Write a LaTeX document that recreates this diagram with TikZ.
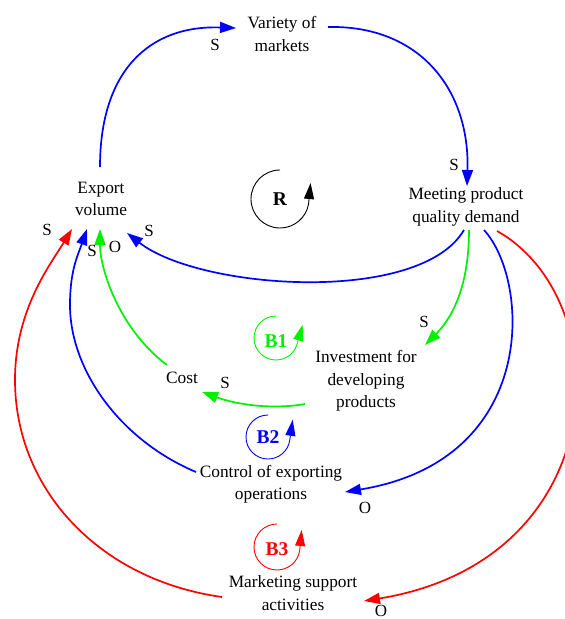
\documentclass[tikz,border=0pt]{standalone}
\usepackage{fontspec}
\setmainfont{Liberation Serif}
\usetikzlibrary{arrows.meta,calc}
\definecolor{lblue}{RGB}{0,0,255}
\definecolor{lgreen}{RGB}{0,240,0}
\definecolor{lred}{RGB}{255,0,0}
\begin{document}
\begin{tikzpicture}[x=1pt,y=-1pt,
  var/.style={align=center,inner sep=0pt,font=\fontsize{17.3}{22.5}\selectfont},
  pol/.style={inner sep=0pt,font=\fontsize{17}{20}\selectfont},
  lnk/.style={line width=1.7pt,-{Triangle[length=16pt,width=11pt]}},
  loopmark/.style={line width=0.9pt,-{Triangle[length=16pt,width=10pt]}},
  looplabel/.style={inner sep=0pt,font=\fontsize{19.5}{22}\selectfont\bfseries}]
\useasboundingbox (0,0) rectangle (565,619);

% variables
\node[var] (vm)   at (282,34)  {Variety of\\markets};
\node[var] (ev)   at (101,199) {Export\\volume};
\node[var] (mp)   at (466,207) {Meeting product\\quality demand};
\node[var] (inv)  at (366,381) {Investment for\\developing\\products};
\node[var] (cost) at (182,378) {Cost};
\node[var] (ctl)  at (271,484) {Control of exporting\\operations};
\node[var] (mkt)  at (293,593) {Marketing support\\activities};

% causal links
\draw[lnk,lblue] ($(ev)+(-1,-32)$) .. controls (100,70) and (150,25) .. ($(vm)+(-46,-6)$);
\draw[lnk,lblue] ($(vm)+(46,-7)$) .. controls (420,25) and (470,90) .. ($(mp)+(1,-21)$);
\draw[lnk,lblue] ($(mp)+(-2,23)$) .. controls (420,305) and (200,290) .. ($(ev)+(26,34)$);
\draw[lnk,lgreen] ($(mp)+(3,23)$) .. controls (469,290) and (450,320) .. ($(inv)+(59,-36)$);
\draw[lnk,lgreen] ($(inv)+(-61,23)$) .. controls (270,410) and (235,404) .. ($(cost)+(20,14)$);
\draw[lnk,lgreen] ($(cost)+(-15,-13)$) .. controls (120,330) and (100,270) .. ($(ev)+(-1,30)$);
\draw[lnk,lblue] ($(mp)+(18,23)$) .. controls (530,280) and (540,460) .. ($(ctl)+(74,8)$);
\draw[lnk,lblue] ($(ctl)+(-75,-12)$) .. controls (120,440) and (70,370) .. (70,305)
  .. controls (70,270) and (78,255) .. ($(ev)+(-14,30)$);
\draw[lnk,lred] ($(mp)+(31,24)$) .. controls (620,300) and (615,560) .. ($(mkt)+(71,8)$);
\draw[lnk,lred] ($(mkt)+(-71,4)$) .. controls (100,580) and (15,490) .. (15,380)
  .. controls (15,310) and (50,265) .. ($(ev)+(-29,30)$);

% polarities
\node[pol] (p1)  at (215,45)  {S};
\node[pol] (p2)  at (454,165) {S};
\node[pol] (p3)  at (149,231) {S};
\node[pol] (p4)  at (424,322) {S};
\node[pol] (p5)  at (225,383) {S};
\node[pol] (p6)  at (115,247) {O};
\node[pol] (p7)  at (365,508) {O};
\node[pol] (p8)  at (92,251)  {S};
\node[pol] (p9)  at (381,611) {O};
\node[pol] (p10) at (47,230)  {S};

% loop markers
\node[looplabel] (R)  at (280,199) {R};
\draw[loopmark,black] (280,170) arc[start angle=-90,end angle=-350,radius=29] -- ++(2,-21);
\node[looplabel,text=lgreen] (B1) at (276,341) {B1};
\draw[loopmark,lgreen] (276,316) arc[start angle=-90,end angle=-350,radius=22] -- ++(5,-17);
\node[looplabel,text=lblue] (B2) at (268,437) {B2};
\draw[loopmark,lblue] (268,415) arc[start angle=-90,end angle=-350,radius=22] -- ++(3,-21);
\node[looplabel,text=lred] (B3) at (277,549) {B3};
\draw[loopmark,lred] (277,524) arc[start angle=-90,end angle=-350,radius=23] -- ++(2,-21);
\end{tikzpicture}
\end{document}
